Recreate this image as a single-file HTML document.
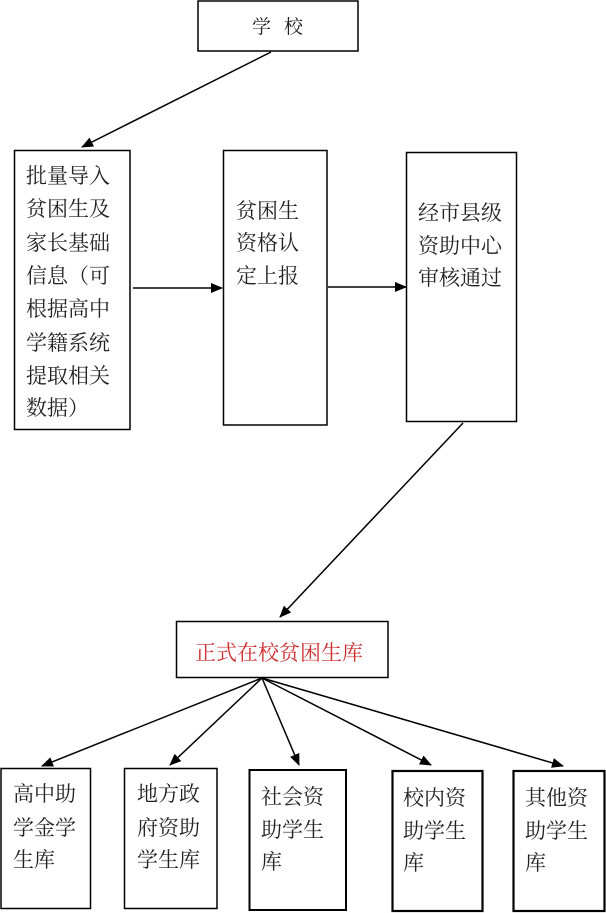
<!DOCTYPE html>
<html><head><meta charset="utf-8"><style>
html,body{margin:0;padding:0;background:#fff;}
svg{display:block;}
text{font-family:"Liberation Serif","Noto Serif CJK SC","Noto Serif CJK JP","Noto Serif CJK","Noto Serif SC",serif;fill:#222;}
</style></head><body>
<svg width="606" height="913" viewBox="0 0 606 913" xmlns="http://www.w3.org/2000/svg">
<defs>
<marker id="ah" markerWidth="12" markerHeight="10" refX="11" refY="5" orient="auto" markerUnits="userSpaceOnUse">
<path d="M0,0 L12,5 L0,10 z" fill="#000"/>
</marker>
</defs>
<g fill="none" stroke="#000" stroke-width="1.5">
<rect x="198" y="1" width="160" height="50"/>
<rect x="14.5" y="150.5" width="115.5" height="279"/>
<rect x="223.5" y="150.5" width="103.5" height="274.5"/>
<rect x="406.5" y="152.5" width="110" height="269"/>
<rect x="176.5" y="621.5" width="211.5" height="56"/>
<rect x="1" y="768.5" width="89.5" height="140"/>
<rect x="124.5" y="768.5" width="92.5" height="140"/>
<rect x="249.5" y="770" width="96.5" height="140" stroke-width="2"/>
<rect x="392.5" y="771" width="90" height="140" stroke-width="2.2"/>
<rect x="513.5" y="771" width="91" height="140" stroke-width="2.2"/>
<line x1="271" y1="52" x2="82" y2="147" marker-end="url(#ah)"/>
<line x1="133" y1="288" x2="222" y2="288" marker-end="url(#ah)"/>
<line x1="328" y1="287" x2="406" y2="287" marker-end="url(#ah)"/>
<line x1="463" y1="423" x2="280" y2="617" marker-end="url(#ah)"/>
<line x1="262" y1="678" x2="42" y2="766" marker-end="url(#ah)"/>
<line x1="262" y1="678" x2="170" y2="765" marker-end="url(#ah)"/>
<line x1="262" y1="678" x2="299" y2="765" marker-end="url(#ah)"/>
<line x1="262" y1="678" x2="431" y2="765" marker-end="url(#ah)"/>
<line x1="262" y1="678" x2="563" y2="766" marker-end="url(#ah)"/>
</g>
<text x="252" y="33" font-size="19">学</text>
<text x="284" y="33" font-size="19">校</text>
<g font-size="21">
<text x="26" y="183">批量导入</text>
<text x="26" y="216">贫困生及</text>
<text x="26" y="250">家长基础</text>
<text x="26" y="283">信息（可</text>
<text x="26" y="316">根据高中</text>
<text x="26" y="350">学籍系统</text>
<text x="26" y="383">提取相关</text>
<text x="26" y="415">数据）</text>
<text x="236" y="218">贫困生</text>
<text x="236" y="250">资格认</text>
<text x="236" y="283">定上报</text>
<text x="418" y="220">经市县级</text>
<text x="418" y="253">资助中心</text>
<text x="418" y="285">审核通过</text>
<text x="195" y="660" style="fill:#cf2f2f">正式在校贫困生库</text>
<text x="13" y="801">高中助</text>
<text x="13" y="835">学金学</text>
<text x="13" y="867">生库</text>
<text x="137" y="801">地方政</text>
<text x="137" y="835">府资助</text>
<text x="137" y="867">学生库</text>
<text x="261" y="804">社会资</text>
<text x="261" y="837">助学生</text>
<text x="261" y="869">库</text>
<text x="403" y="805">校内资</text>
<text x="403" y="838">助学生</text>
<text x="403" y="870">库</text>
<text x="525" y="805">其他资</text>
<text x="525" y="838">助学生</text>
<text x="525" y="870">库</text>
</g>
</svg>
</body></html>
